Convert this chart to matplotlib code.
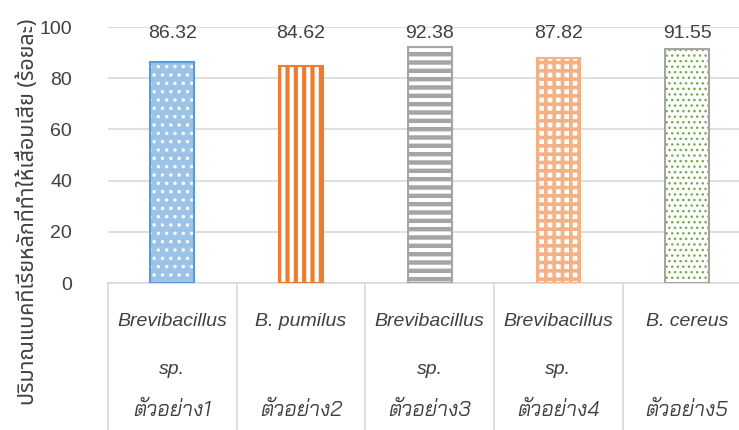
import matplotlib
matplotlib.use("Agg")
import matplotlib.pyplot as plt
import matplotlib.transforms as mtrans
from matplotlib.lines import Line2D

# ข้อมูล
species_top = ["Brevibacillus", "B. pumilus", "Brevibacillus", "Brevibacillus", "B. cereus"]
species_bottom = ["sp.", "", "sp.", "sp.", ""]
samples = ["ตัวอย่าง1", "ตัวอย่าง2", "ตัวอย่าง3", "ตัวอย่าง4", "ตัวอย่าง5"]
values = [86.32, 84.62, 92.38, 87.82, 91.55]
yticks = [0, 20, 40, 60, 80, 100]
ylabel = "ปริมาณแบคทีเรียหลักที่ทำให้เสื่อมเสีย (ร้อยละ)"

# สไตล์ของแต่ละแท่ง: (พื้น, สีลาย, ลาย, ความหนาลาย, สีขอบ)
styles = [
    ("#9DC3E6", "white", "..", 1.2, "#5B9BD5"),
    ("white", "#ED7D31", "||", 3.0, "#ED7D31"),
    ("white", "#A5A5A5", "--", 3.2, "#A5A5A5"),
    ("white", "#F4B183", "++", 2.6, "#F4B183"),
    ("white", "#70AD47", "...", 1.0, "#A5A5A5"),
]

fonts = ["Liberation Sans", "Noto Sans Thai", "DejaVu Sans"]
thai_fonts = ["Noto Sans Thai", "Liberation Sans", "DejaVu Sans"]
thai_italic = ["Bai Jamjuree", "Noto Sans Thai", "DejaVu Sans"]
txt_col = "#404040"

fig = plt.figure(figsize=(7.39, 4.30), dpi=100)
ax = fig.add_axes([108 / 739, 1 - 283 / 430, 643.5 / 739, 256 / 430])

bw = 0.34
for i, (v, st) in enumerate(zip(values, styles)):
    face, hcol, hatch, hlw, edge = st
    plt.rcParams["hatch.linewidth"] = hlw
    ax.bar(i, v, width=bw, color=face, edgecolor=hcol, hatch=hatch, linewidth=0, zorder=2)
    ax.bar(i, v, width=bw, color="none", edgecolor=edge, linewidth=1.5, zorder=3)
    ax.text(i, 97.3, f"{v:.2f}", ha="center", va="center", fontsize=14,
            color=txt_col, family=fonts)

ax.set_xlim(-0.5, len(values) - 0.5)
ax.set_ylim(0, 100)
ax.set_yticks(yticks)
ax.set_yticklabels([str(t) for t in yticks], fontsize=14, color=txt_col, family=fonts)
ax.tick_params(axis="y", length=0, pad=26)
ax.set_xticks([])
ax.yaxis.grid(True, color="#D9D9D9", linewidth=1.2, zorder=0)
ax.set_axisbelow(True)
for s in ["top", "right", "left"]:
    ax.spines[s].set_visible(False)
ax.spines["bottom"].set_color("#D9D9D9")
ax.spines["bottom"].set_linewidth(1.2)

# ป้ายแกน x แบบตาราง
tr = mtrans.blended_transform_factory(ax.transData, ax.transAxes)
for b in range(len(values) + 1):
    ax.add_line(Line2D([b - 0.5, b - 0.5], [0, -0.7], transform=tr, color="#D9D9D9",
                       linewidth=1.2, clip_on=False))
for i in range(len(values)):
    for txt, off, fam, fs in [(species_top[i], -39, fonts, 14),
                              (species_bottom[i], -87, fonts, 14),
                              (samples[i], -127, thai_italic, 15)]:
        ax.annotate(txt, xy=(i, 0), xycoords=tr, xytext=(0, off), textcoords="offset pixels",
                    ha="center", va="center", fontsize=fs, style="italic", color=txt_col,
                    family=fam)

fig.text(28 / 739, 1 - 212 / 430, ylabel, rotation=90, ha="center", va="center",
         fontsize=15.5, color=txt_col, family=thai_fonts)

fig.savefig("out.png", dpi=100)
